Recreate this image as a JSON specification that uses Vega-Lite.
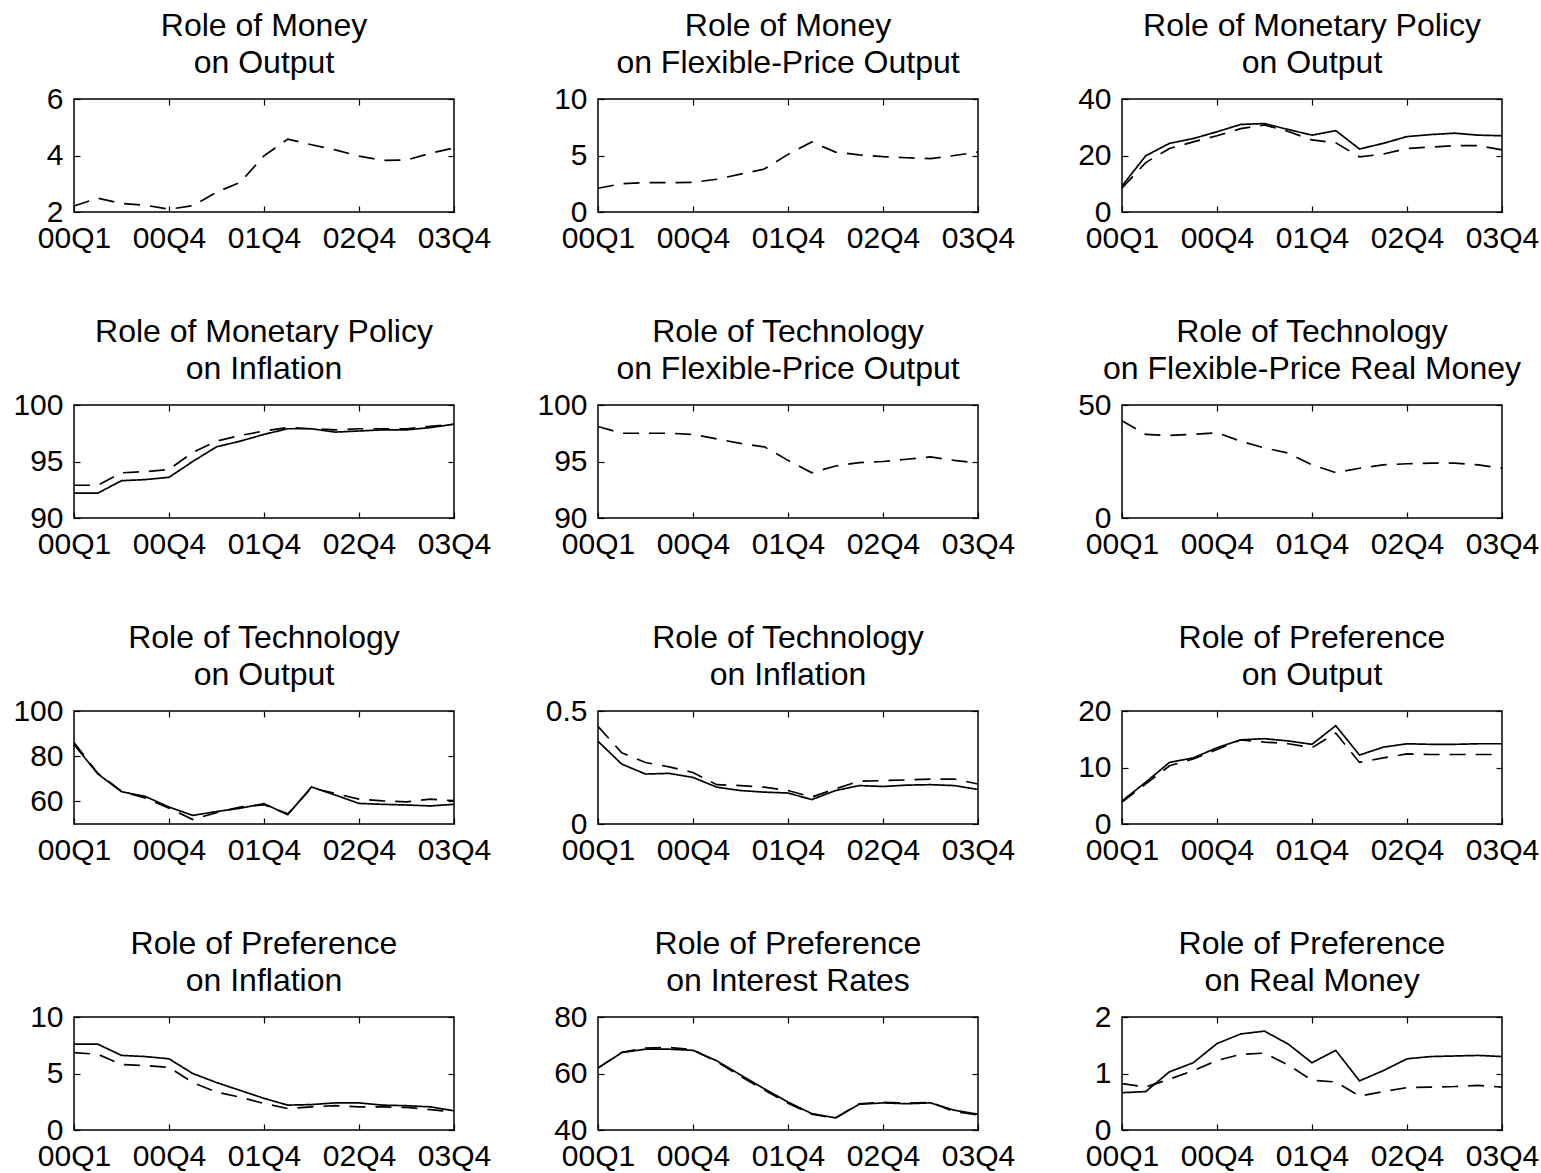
{
  "$schema": "https://vega.github.io/schema/vega-lite/v6.json",
  "padding": {"left": 12, "top": 9, "right": 0, "bottom": 0},
  "background": "white",
  "columns": 3,
  "bounds": "flush",
  "spacing": {"row": 193, "column": 144},
  "config": {
    "view": {"stroke": "black", "strokeWidth": 1.5},
    "font": "Liberation Sans",
    "title": {"font": "Liberation Sans", "fontSize": 32, "fontWeight": "normal", "color": "black", "lineHeight": 37, "anchor": "middle", "offset": 4},
    "axis": {"grid": false, "domain": false, "labelFont": "Liberation Sans", "labelFontSize": 30, "labelColor": "black", "tickColor": "black", "tickSize": -6, "tickWidth": 1.2, "title": null, "labelOverlap": false, "labelBound": false, "labelFlush": false},
    "axisX": {"labelPadding": 17},
    "axisY": {"labelPadding": 17},
    "line": {"color": "black", "strokeWidth": 1.7}
  },
  "data": {"values": [
    {"p":1,"t":0,"b":2.21},{"p":1,"t":1,"b":2.49},{"p":1,"t":2,"b":2.3},{"p":1,"t":3,"b":2.24},{"p":1,"t":4,"b":2.1},{"p":1,"t":5,"b":2.22},{"p":1,"t":6,"b":2.7},{"p":1,"t":7,"b":3.05},{"p":1,"t":8,"b":3.99},{"p":1,"t":9,"b":4.58},{"p":1,"t":10,"b":4.38},{"p":1,"t":11,"b":4.2},{"p":1,"t":12,"b":3.98},{"p":1,"t":13,"b":3.83},{"p":1,"t":14,"b":3.84},{"p":1,"t":15,"b":4.08},{"p":1,"t":16,"b":4.27},
    {"p":2,"t":0,"b":2.1},{"p":2,"t":1,"b":2.5},{"p":2,"t":2,"b":2.6},{"p":2,"t":3,"b":2.6},{"p":2,"t":4,"b":2.62},{"p":2,"t":5,"b":2.9},{"p":2,"t":6,"b":3.35},{"p":2,"t":7,"b":3.8},{"p":2,"t":8,"b":5.1},{"p":2,"t":9,"b":6.2},{"p":2,"t":10,"b":5.3},{"p":2,"t":11,"b":5.05},{"p":2,"t":12,"b":4.9},{"p":2,"t":13,"b":4.8},{"p":2,"t":14,"b":4.72},{"p":2,"t":15,"b":5.0},{"p":2,"t":16,"b":5.3},
    {"p":3,"t":0,"a":9.2,"b":8.5},{"p":3,"t":1,"a":19.9,"b":17.5},{"p":3,"t":2,"a":24.3,"b":22.5},{"p":3,"t":3,"a":26.0,"b":24.8},{"p":3,"t":4,"a":28.4,"b":27.0},{"p":3,"t":5,"a":31.0,"b":29.5},{"p":3,"t":6,"a":31.3,"b":30.8},{"p":3,"t":7,"a":29.2,"b":28.5},{"p":3,"t":8,"a":27.2,"b":25.5},{"p":3,"t":9,"a":28.8,"b":24.5},{"p":3,"t":10,"a":22.3,"b":19.5},{"p":3,"t":11,"a":24.3,"b":20.5},{"p":3,"t":12,"a":26.7,"b":22.5},{"p":3,"t":13,"a":27.4,"b":23.0},{"p":3,"t":14,"a":27.9,"b":23.5},{"p":3,"t":15,"a":27.2,"b":23.5},{"p":3,"t":16,"a":27.0,"b":22.0},
    {"p":4,"t":0,"a":92.2,"b":92.9},{"p":4,"t":1,"a":92.2,"b":92.9},{"p":4,"t":2,"a":93.3,"b":94.0},{"p":4,"t":3,"a":93.4,"b":94.1},{"p":4,"t":4,"a":93.6,"b":94.3},{"p":4,"t":5,"a":95.0,"b":95.8},{"p":4,"t":6,"a":96.3,"b":96.8},{"p":4,"t":7,"a":96.8,"b":97.3},{"p":4,"t":8,"a":97.4,"b":97.7},{"p":4,"t":9,"a":97.9,"b":98.0},{"p":4,"t":10,"a":97.9,"b":97.9},{"p":4,"t":11,"a":97.6,"b":97.8},{"p":4,"t":12,"a":97.7,"b":97.9},{"p":4,"t":13,"a":97.8,"b":97.9},{"p":4,"t":14,"a":97.8,"b":97.9},{"p":4,"t":15,"a":98.0,"b":98.1},{"p":4,"t":16,"a":98.3,"b":98.3},
    {"p":5,"t":0,"b":98.1},{"p":5,"t":1,"b":97.5},{"p":5,"t":2,"b":97.5},{"p":5,"t":3,"b":97.5},{"p":5,"t":4,"b":97.4},{"p":5,"t":5,"b":97.0},{"p":5,"t":6,"b":96.6},{"p":5,"t":7,"b":96.3},{"p":5,"t":8,"b":95.1},{"p":5,"t":9,"b":94.0},{"p":5,"t":10,"b":94.6},{"p":5,"t":11,"b":94.9},{"p":5,"t":12,"b":95.0},{"p":5,"t":13,"b":95.2},{"p":5,"t":14,"b":95.4},{"p":5,"t":15,"b":95.1},{"p":5,"t":16,"b":94.85},
    {"p":6,"t":0,"b":43.0},{"p":6,"t":1,"b":37.0},{"p":6,"t":2,"b":36.5},{"p":6,"t":3,"b":37.0},{"p":6,"t":4,"b":37.7},{"p":6,"t":5,"b":34.0},{"p":6,"t":6,"b":31.0},{"p":6,"t":7,"b":28.7},{"p":6,"t":8,"b":23.5},{"p":6,"t":9,"b":20.1},{"p":6,"t":10,"b":22.0},{"p":6,"t":11,"b":23.5},{"p":6,"t":12,"b":24.0},{"p":6,"t":13,"b":24.3},{"p":6,"t":14,"b":24.3},{"p":6,"t":15,"b":23.5},{"p":6,"t":16,"b":22.0},
    {"p":7,"t":0,"a":85.2,"b":86.0},{"p":7,"t":1,"a":72.2,"b":72.5},{"p":7,"t":2,"a":64.3,"b":64.5},{"p":7,"t":3,"a":62.2,"b":61.5},{"p":7,"t":4,"a":57.5,"b":57.0},{"p":7,"t":5,"a":53.8,"b":52.0},{"p":7,"t":6,"a":55.5,"b":55.0},{"p":7,"t":7,"a":57.0,"b":57.5},{"p":7,"t":8,"a":59.0,"b":58.5},{"p":7,"t":9,"a":54.1,"b":54.5},{"p":7,"t":10,"a":66.4,"b":66.0},{"p":7,"t":11,"a":62.8,"b":63.5},{"p":7,"t":12,"a":59.1,"b":61.0},{"p":7,"t":13,"a":58.7,"b":60.2},{"p":7,"t":14,"a":58.4,"b":59.8},{"p":7,"t":15,"a":58.0,"b":61.0},{"p":7,"t":16,"a":58.7,"b":60.3},
    {"p":8,"t":0,"a":0.366,"b":0.432},{"p":8,"t":1,"a":0.265,"b":0.315},{"p":8,"t":2,"a":0.221,"b":0.272},{"p":8,"t":3,"a":0.224,"b":0.253},{"p":8,"t":4,"a":0.206,"b":0.228},{"p":8,"t":5,"a":0.163,"b":0.174},{"p":8,"t":6,"a":0.148,"b":0.17},{"p":8,"t":7,"a":0.141,"b":0.163},{"p":8,"t":8,"a":0.137,"b":0.148},{"p":8,"t":9,"a":0.108,"b":0.119},{"p":8,"t":10,"a":0.148,"b":0.156},{"p":8,"t":11,"a":0.17,"b":0.189},{"p":8,"t":12,"a":0.166,"b":0.192},{"p":8,"t":13,"a":0.172,"b":0.195},{"p":8,"t":14,"a":0.174,"b":0.199},{"p":8,"t":15,"a":0.17,"b":0.199},{"p":8,"t":16,"a":0.153,"b":0.177},
    {"p":9,"t":0,"a":4.07,"b":3.9},{"p":9,"t":1,"a":7.4,"b":7.1},{"p":9,"t":2,"a":10.9,"b":10.3},{"p":9,"t":3,"a":11.7,"b":11.5},{"p":9,"t":4,"a":13.5,"b":13.2},{"p":9,"t":5,"a":14.9,"b":14.9},{"p":9,"t":6,"a":15.1,"b":14.5},{"p":9,"t":7,"a":14.7,"b":14.2},{"p":9,"t":8,"a":14.1,"b":13.5},{"p":9,"t":9,"a":17.4,"b":16.1},{"p":9,"t":10,"a":12.2,"b":10.9},{"p":9,"t":11,"a":13.6,"b":11.7},{"p":9,"t":12,"a":14.2,"b":12.4},{"p":9,"t":13,"a":14.1,"b":12.3},{"p":9,"t":14,"a":14.1,"b":12.3},{"p":9,"t":15,"a":14.2,"b":12.3},{"p":9,"t":16,"a":14.2,"b":12.3},
    {"p":10,"t":0,"a":7.6,"b":6.85},{"p":10,"t":1,"a":7.6,"b":6.7},{"p":10,"t":2,"a":6.6,"b":5.8},{"p":10,"t":3,"a":6.5,"b":5.7},{"p":10,"t":4,"a":6.3,"b":5.55},{"p":10,"t":5,"a":5.0,"b":4.2},{"p":10,"t":6,"a":4.2,"b":3.35},{"p":10,"t":7,"a":3.5,"b":2.9},{"p":10,"t":8,"a":2.8,"b":2.35},{"p":10,"t":9,"a":2.2,"b":1.9},{"p":10,"t":10,"a":2.25,"b":2.05},{"p":10,"t":11,"a":2.4,"b":2.15},{"p":10,"t":12,"a":2.4,"b":2.05},{"p":10,"t":13,"a":2.2,"b":2.05},{"p":10,"t":14,"a":2.15,"b":2.0},{"p":10,"t":15,"a":2.05,"b":1.8},{"p":10,"t":16,"a":1.7,"b":1.6},
    {"p":11,"t":0,"a":61.9,"b":62.0},{"p":11,"t":1,"a":67.4,"b":67.5},{"p":11,"t":2,"a":68.6,"b":69.0},{"p":11,"t":3,"a":68.6,"b":69.2},{"p":11,"t":4,"a":68.2,"b":68.4},{"p":11,"t":5,"a":64.5,"b":64.2},{"p":11,"t":6,"a":59.5,"b":59.0},{"p":11,"t":7,"a":54.6,"b":54.2},{"p":11,"t":8,"a":49.9,"b":49.5},{"p":11,"t":9,"a":45.8,"b":45.6},{"p":11,"t":10,"a":44.3,"b":44.2},{"p":11,"t":11,"a":49.1,"b":49.3},{"p":11,"t":12,"a":49.6,"b":49.8},{"p":11,"t":13,"a":49.3,"b":49.5},{"p":11,"t":14,"a":49.6,"b":49.8},{"p":11,"t":15,"a":47.0,"b":46.5},{"p":11,"t":16,"a":45.6,"b":45.3},
    {"p":12,"t":0,"a":0.66,"b":0.82},{"p":12,"t":1,"a":0.68,"b":0.76},{"p":12,"t":2,"a":1.03,"b":0.9},{"p":12,"t":3,"a":1.19,"b":1.05},{"p":12,"t":4,"a":1.53,"b":1.23},{"p":12,"t":5,"a":1.7,"b":1.34},{"p":12,"t":6,"a":1.75,"b":1.36},{"p":12,"t":7,"a":1.52,"b":1.15},{"p":12,"t":8,"a":1.19,"b":0.88},{"p":12,"t":9,"a":1.41,"b":0.85},{"p":12,"t":10,"a":0.87,"b":0.6},{"p":12,"t":11,"a":1.05,"b":0.68},{"p":12,"t":12,"a":1.26,"b":0.75},{"p":12,"t":13,"a":1.3,"b":0.76},{"p":12,"t":14,"a":1.31,"b":0.77},{"p":12,"t":15,"a":1.32,"b":0.79},{"p":12,"t":16,"a":1.3,"b":0.76}
  ]},
  "transform": [{"fold": ["a", "b"], "as": ["series", "v"]}],
  "concat": [
    {"width": 380, "height": 113, "title": {"text": ["Role of Money", "on Output"]}, "transform": [{"filter": "datum.p == 1"}],
     "layer": [
      {"mark": "line", "encoding": {"x": {"field": "t", "type": "quantitative", "scale": {"domain": [0, 16], "nice": false}, "axis": {"values": [0, 4, 8, 12, 16], "labelExpr": "datum.value == 0 ? '00Q1' : datum.value == 4 ? '00Q4' : datum.value == 8 ? '01Q4' : datum.value == 12 ? '02Q4' : '03Q4'"}}, "y": {"field": "v", "type": "quantitative", "scale": {"domain": [2, 6], "nice": false, "zero": false}, "axis": {"values": [2, 4, 6], "format": "~f"}}, "strokeDash": {"field": "series", "type": "nominal", "scale": {"domain": ["a", "b"], "range": [[1, 0], [16, 10]]}, "legend": null}}},
      {"mark": {"type": "line", "opacity": 0}, "encoding": {"x": {"field": "t", "type": "quantitative", "axis": {"orient": "top", "values": [4, 8, 12], "labels": false}}, "y": {"field": "v", "type": "quantitative", "axis": {"orient": "right", "values": [2, 4, 6], "labels": false}}}}
     ], "resolve": {"axis": {"x": "independent", "y": "independent"}}},
    {"width": 380, "height": 113, "title": {"text": ["Role of Money", "on Flexible-Price Output"]}, "transform": [{"filter": "datum.p == 2"}],
     "layer": [
      {"mark": "line", "encoding": {"x": {"field": "t", "type": "quantitative", "scale": {"domain": [0, 16], "nice": false}, "axis": {"values": [0, 4, 8, 12, 16], "labelExpr": "datum.value == 0 ? '00Q1' : datum.value == 4 ? '00Q4' : datum.value == 8 ? '01Q4' : datum.value == 12 ? '02Q4' : '03Q4'"}}, "y": {"field": "v", "type": "quantitative", "scale": {"domain": [0, 10], "nice": false, "zero": false}, "axis": {"values": [0, 5, 10], "format": "~f"}}, "strokeDash": {"field": "series", "type": "nominal", "scale": {"domain": ["a", "b"], "range": [[1, 0], [16, 10]]}, "legend": null}}},
      {"mark": {"type": "line", "opacity": 0}, "encoding": {"x": {"field": "t", "type": "quantitative", "axis": {"orient": "top", "values": [4, 8, 12], "labels": false}}, "y": {"field": "v", "type": "quantitative", "axis": {"orient": "right", "values": [0, 5, 10], "labels": false}}}}
     ], "resolve": {"axis": {"x": "independent", "y": "independent"}}},
    {"width": 380, "height": 113, "title": {"text": ["Role of Monetary Policy", "on Output"]}, "transform": [{"filter": "datum.p == 3"}],
     "layer": [
      {"mark": "line", "encoding": {"x": {"field": "t", "type": "quantitative", "scale": {"domain": [0, 16], "nice": false}, "axis": {"values": [0, 4, 8, 12, 16], "labelExpr": "datum.value == 0 ? '00Q1' : datum.value == 4 ? '00Q4' : datum.value == 8 ? '01Q4' : datum.value == 12 ? '02Q4' : '03Q4'"}}, "y": {"field": "v", "type": "quantitative", "scale": {"domain": [0, 40], "nice": false, "zero": false}, "axis": {"values": [0, 20, 40], "format": "~f"}}, "strokeDash": {"field": "series", "type": "nominal", "scale": {"domain": ["a", "b"], "range": [[1, 0], [16, 10]]}, "legend": null}}},
      {"mark": {"type": "line", "opacity": 0}, "encoding": {"x": {"field": "t", "type": "quantitative", "axis": {"orient": "top", "values": [4, 8, 12], "labels": false}}, "y": {"field": "v", "type": "quantitative", "axis": {"orient": "right", "values": [0, 20, 40], "labels": false}}}}
     ], "resolve": {"axis": {"x": "independent", "y": "independent"}}},
    {"width": 380, "height": 113, "title": {"text": ["Role of Monetary Policy", "on Inflation"]}, "transform": [{"filter": "datum.p == 4"}],
     "layer": [
      {"mark": "line", "encoding": {"x": {"field": "t", "type": "quantitative", "scale": {"domain": [0, 16], "nice": false}, "axis": {"values": [0, 4, 8, 12, 16], "labelExpr": "datum.value == 0 ? '00Q1' : datum.value == 4 ? '00Q4' : datum.value == 8 ? '01Q4' : datum.value == 12 ? '02Q4' : '03Q4'"}}, "y": {"field": "v", "type": "quantitative", "scale": {"domain": [90, 100], "nice": false, "zero": false}, "axis": {"values": [90, 95, 100], "format": "~f"}}, "strokeDash": {"field": "series", "type": "nominal", "scale": {"domain": ["a", "b"], "range": [[1, 0], [16, 10]]}, "legend": null}}},
      {"mark": {"type": "line", "opacity": 0}, "encoding": {"x": {"field": "t", "type": "quantitative", "axis": {"orient": "top", "values": [4, 8, 12], "labels": false}}, "y": {"field": "v", "type": "quantitative", "axis": {"orient": "right", "values": [90, 95, 100], "labels": false}}}}
     ], "resolve": {"axis": {"x": "independent", "y": "independent"}}},
    {"width": 380, "height": 113, "title": {"text": ["Role of Technology", "on Flexible-Price Output"]}, "transform": [{"filter": "datum.p == 5"}],
     "layer": [
      {"mark": "line", "encoding": {"x": {"field": "t", "type": "quantitative", "scale": {"domain": [0, 16], "nice": false}, "axis": {"values": [0, 4, 8, 12, 16], "labelExpr": "datum.value == 0 ? '00Q1' : datum.value == 4 ? '00Q4' : datum.value == 8 ? '01Q4' : datum.value == 12 ? '02Q4' : '03Q4'"}}, "y": {"field": "v", "type": "quantitative", "scale": {"domain": [90, 100], "nice": false, "zero": false}, "axis": {"values": [90, 95, 100], "format": "~f"}}, "strokeDash": {"field": "series", "type": "nominal", "scale": {"domain": ["a", "b"], "range": [[1, 0], [16, 10]]}, "legend": null}}},
      {"mark": {"type": "line", "opacity": 0}, "encoding": {"x": {"field": "t", "type": "quantitative", "axis": {"orient": "top", "values": [4, 8, 12], "labels": false}}, "y": {"field": "v", "type": "quantitative", "axis": {"orient": "right", "values": [90, 95, 100], "labels": false}}}}
     ], "resolve": {"axis": {"x": "independent", "y": "independent"}}},
    {"width": 380, "height": 113, "title": {"text": ["Role of Technology", "on Flexible-Price Real Money"]}, "transform": [{"filter": "datum.p == 6"}],
     "layer": [
      {"mark": "line", "encoding": {"x": {"field": "t", "type": "quantitative", "scale": {"domain": [0, 16], "nice": false}, "axis": {"values": [0, 4, 8, 12, 16], "labelExpr": "datum.value == 0 ? '00Q1' : datum.value == 4 ? '00Q4' : datum.value == 8 ? '01Q4' : datum.value == 12 ? '02Q4' : '03Q4'"}}, "y": {"field": "v", "type": "quantitative", "scale": {"domain": [0, 50], "nice": false, "zero": false}, "axis": {"values": [0, 50], "format": "~f"}}, "strokeDash": {"field": "series", "type": "nominal", "scale": {"domain": ["a", "b"], "range": [[1, 0], [16, 10]]}, "legend": null}}},
      {"mark": {"type": "line", "opacity": 0}, "encoding": {"x": {"field": "t", "type": "quantitative", "axis": {"orient": "top", "values": [4, 8, 12], "labels": false}}, "y": {"field": "v", "type": "quantitative", "axis": {"orient": "right", "values": [0, 50], "labels": false}}}}
     ], "resolve": {"axis": {"x": "independent", "y": "independent"}}},
    {"width": 380, "height": 113, "title": {"text": ["Role of Technology", "on Output"]}, "transform": [{"filter": "datum.p == 7"}],
     "layer": [
      {"mark": "line", "encoding": {"x": {"field": "t", "type": "quantitative", "scale": {"domain": [0, 16], "nice": false}, "axis": {"values": [0, 4, 8, 12, 16], "labelExpr": "datum.value == 0 ? '00Q1' : datum.value == 4 ? '00Q4' : datum.value == 8 ? '01Q4' : datum.value == 12 ? '02Q4' : '03Q4'"}}, "y": {"field": "v", "type": "quantitative", "scale": {"domain": [50, 100], "nice": false, "zero": false}, "axis": {"values": [60, 80, 100], "format": "~f"}}, "strokeDash": {"field": "series", "type": "nominal", "scale": {"domain": ["a", "b"], "range": [[1, 0], [16, 10]]}, "legend": null}}},
      {"mark": {"type": "line", "opacity": 0}, "encoding": {"x": {"field": "t", "type": "quantitative", "axis": {"orient": "top", "values": [4, 8, 12], "labels": false}}, "y": {"field": "v", "type": "quantitative", "axis": {"orient": "right", "values": [60, 80, 100], "labels": false}}}}
     ], "resolve": {"axis": {"x": "independent", "y": "independent"}}},
    {"width": 380, "height": 113, "title": {"text": ["Role of Technology", "on Inflation"]}, "transform": [{"filter": "datum.p == 8"}],
     "layer": [
      {"mark": "line", "encoding": {"x": {"field": "t", "type": "quantitative", "scale": {"domain": [0, 16], "nice": false}, "axis": {"values": [0, 4, 8, 12, 16], "labelExpr": "datum.value == 0 ? '00Q1' : datum.value == 4 ? '00Q4' : datum.value == 8 ? '01Q4' : datum.value == 12 ? '02Q4' : '03Q4'"}}, "y": {"field": "v", "type": "quantitative", "scale": {"domain": [0, 0.5], "nice": false, "zero": false}, "axis": {"values": [0, 0.5], "format": "~f"}}, "strokeDash": {"field": "series", "type": "nominal", "scale": {"domain": ["a", "b"], "range": [[1, 0], [16, 10]]}, "legend": null}}},
      {"mark": {"type": "line", "opacity": 0}, "encoding": {"x": {"field": "t", "type": "quantitative", "axis": {"orient": "top", "values": [4, 8, 12], "labels": false}}, "y": {"field": "v", "type": "quantitative", "axis": {"orient": "right", "values": [0, 0.5], "labels": false}}}}
     ], "resolve": {"axis": {"x": "independent", "y": "independent"}}},
    {"width": 380, "height": 113, "title": {"text": ["Role of Preference", "on Output"]}, "transform": [{"filter": "datum.p == 9"}],
     "layer": [
      {"mark": "line", "encoding": {"x": {"field": "t", "type": "quantitative", "scale": {"domain": [0, 16], "nice": false}, "axis": {"values": [0, 4, 8, 12, 16], "labelExpr": "datum.value == 0 ? '00Q1' : datum.value == 4 ? '00Q4' : datum.value == 8 ? '01Q4' : datum.value == 12 ? '02Q4' : '03Q4'"}}, "y": {"field": "v", "type": "quantitative", "scale": {"domain": [0, 20], "nice": false, "zero": false}, "axis": {"values": [0, 10, 20], "format": "~f"}}, "strokeDash": {"field": "series", "type": "nominal", "scale": {"domain": ["a", "b"], "range": [[1, 0], [16, 10]]}, "legend": null}}},
      {"mark": {"type": "line", "opacity": 0}, "encoding": {"x": {"field": "t", "type": "quantitative", "axis": {"orient": "top", "values": [4, 8, 12], "labels": false}}, "y": {"field": "v", "type": "quantitative", "axis": {"orient": "right", "values": [0, 10, 20], "labels": false}}}}
     ], "resolve": {"axis": {"x": "independent", "y": "independent"}}},
    {"width": 380, "height": 113, "title": {"text": ["Role of Preference", "on Inflation"]}, "transform": [{"filter": "datum.p == 10"}],
     "layer": [
      {"mark": "line", "encoding": {"x": {"field": "t", "type": "quantitative", "scale": {"domain": [0, 16], "nice": false}, "axis": {"values": [0, 4, 8, 12, 16], "labelExpr": "datum.value == 0 ? '00Q1' : datum.value == 4 ? '00Q4' : datum.value == 8 ? '01Q4' : datum.value == 12 ? '02Q4' : '03Q4'"}}, "y": {"field": "v", "type": "quantitative", "scale": {"domain": [0, 10], "nice": false, "zero": false}, "axis": {"values": [0, 5, 10], "format": "~f"}}, "strokeDash": {"field": "series", "type": "nominal", "scale": {"domain": ["a", "b"], "range": [[1, 0], [16, 10]]}, "legend": null}}},
      {"mark": {"type": "line", "opacity": 0}, "encoding": {"x": {"field": "t", "type": "quantitative", "axis": {"orient": "top", "values": [4, 8, 12], "labels": false}}, "y": {"field": "v", "type": "quantitative", "axis": {"orient": "right", "values": [0, 5, 10], "labels": false}}}}
     ], "resolve": {"axis": {"x": "independent", "y": "independent"}}},
    {"width": 380, "height": 113, "title": {"text": ["Role of Preference", "on Interest Rates"]}, "transform": [{"filter": "datum.p == 11"}],
     "layer": [
      {"mark": "line", "encoding": {"x": {"field": "t", "type": "quantitative", "scale": {"domain": [0, 16], "nice": false}, "axis": {"values": [0, 4, 8, 12, 16], "labelExpr": "datum.value == 0 ? '00Q1' : datum.value == 4 ? '00Q4' : datum.value == 8 ? '01Q4' : datum.value == 12 ? '02Q4' : '03Q4'"}}, "y": {"field": "v", "type": "quantitative", "scale": {"domain": [40, 80], "nice": false, "zero": false}, "axis": {"values": [40, 60, 80], "format": "~f"}}, "strokeDash": {"field": "series", "type": "nominal", "scale": {"domain": ["a", "b"], "range": [[1, 0], [16, 10]]}, "legend": null}}},
      {"mark": {"type": "line", "opacity": 0}, "encoding": {"x": {"field": "t", "type": "quantitative", "axis": {"orient": "top", "values": [4, 8, 12], "labels": false}}, "y": {"field": "v", "type": "quantitative", "axis": {"orient": "right", "values": [40, 60, 80], "labels": false}}}}
     ], "resolve": {"axis": {"x": "independent", "y": "independent"}}},
    {"width": 380, "height": 113, "title": {"text": ["Role of Preference", "on Real Money"]}, "transform": [{"filter": "datum.p == 12"}],
     "layer": [
      {"mark": "line", "encoding": {"x": {"field": "t", "type": "quantitative", "scale": {"domain": [0, 16], "nice": false}, "axis": {"values": [0, 4, 8, 12, 16], "labelExpr": "datum.value == 0 ? '00Q1' : datum.value == 4 ? '00Q4' : datum.value == 8 ? '01Q4' : datum.value == 12 ? '02Q4' : '03Q4'"}}, "y": {"field": "v", "type": "quantitative", "scale": {"domain": [0, 2], "nice": false, "zero": false}, "axis": {"values": [0, 1, 2], "format": "~f"}}, "strokeDash": {"field": "series", "type": "nominal", "scale": {"domain": ["a", "b"], "range": [[1, 0], [16, 10]]}, "legend": null}}},
      {"mark": {"type": "line", "opacity": 0}, "encoding": {"x": {"field": "t", "type": "quantitative", "axis": {"orient": "top", "values": [4, 8, 12], "labels": false}}, "y": {"field": "v", "type": "quantitative", "axis": {"orient": "right", "values": [0, 1, 2], "labels": false}}}}
     ], "resolve": {"axis": {"x": "independent", "y": "independent"}}}
  ]
}
